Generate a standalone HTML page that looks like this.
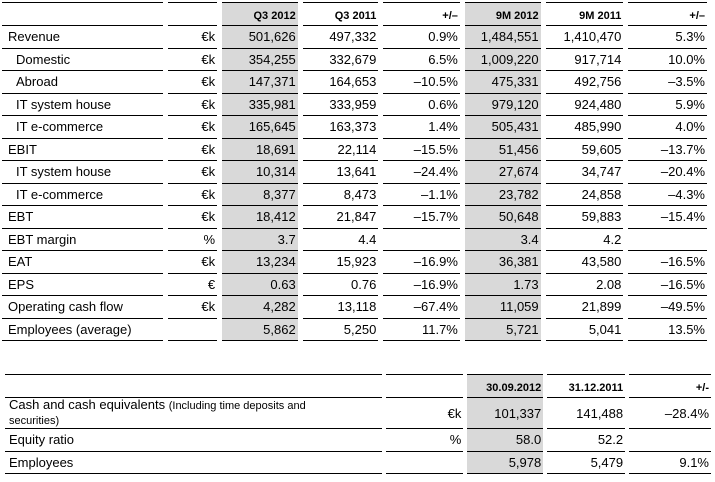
<!DOCTYPE html>
<html><head><meta charset="utf-8"><style>
html,body{margin:0;padding:0;background:#fff;width:715px;height:482px;overflow:hidden;position:relative;font-family:"Liberation Sans",Arial,sans-serif;color:#000}
table{position:absolute;border-collapse:separate;table-layout:fixed}
td{border-bottom:1.5px solid #000;padding:0 2px 0 0;text-align:right;font-size:13px;white-space:nowrap;overflow:hidden;box-sizing:border-box;vertical-align:middle}
td.l{text-align:left;padding-left:6px}
td.i{text-align:left;padding-left:14px}
td.g{background:#d9d9d9}
tr.h td{border-top:1.5px solid #000;font-size:11px;font-weight:bold;vertical-align:bottom;padding-bottom:3px}
#t1{left:-3px;top:2px;border-spacing:5px 0}
#t1 tr{height:22.5px}
#t1 tr.h{height:24px}
#t2{left:1px;top:374px;border-spacing:4px 0}
#t2 tr{height:22.5px}
#t2 tr.h{height:24px}
small{font-size:11px}
</style></head><body>
<table id="t1">
<colgroup><col style="width:161px"><col style="width:50px"><col style="width:76px"><col style="width:76px"><col style="width:77px"><col style="width:76px"><col style="width:78px"><col style="width:79px"></colgroup>
<tr class="h"><td class="l"></td><td></td><td class="g">Q3 2012</td><td>Q3 2011</td><td>+/–</td><td class="g">9M 2012</td><td>9M 2011</td><td>+/–</td></tr>
<tr><td class="l">Revenue</td><td>€k</td><td class="g">501,626</td><td>497,332</td><td>0.9%</td><td class="g">1,484,551</td><td>1,410,470</td><td>5.3%</td></tr>
<tr><td class="i">Domestic</td><td>€k</td><td class="g">354,255</td><td>332,679</td><td>6.5%</td><td class="g">1,009,220</td><td>917,714</td><td>10.0%</td></tr>
<tr><td class="i">Abroad</td><td>€k</td><td class="g">147,371</td><td>164,653</td><td>–10.5%</td><td class="g">475,331</td><td>492,756</td><td>–3.5%</td></tr>
<tr><td class="i">IT system house</td><td>€k</td><td class="g">335,981</td><td>333,959</td><td>0.6%</td><td class="g">979,120</td><td>924,480</td><td>5.9%</td></tr>
<tr><td class="i">IT e-commerce</td><td>€k</td><td class="g">165,645</td><td>163,373</td><td>1.4%</td><td class="g">505,431</td><td>485,990</td><td>4.0%</td></tr>
<tr><td class="l">EBIT</td><td>€k</td><td class="g">18,691</td><td>22,114</td><td>–15.5%</td><td class="g">51,456</td><td>59,605</td><td>–13.7%</td></tr>
<tr><td class="i">IT system house</td><td>€k</td><td class="g">10,314</td><td>13,641</td><td>–24.4%</td><td class="g">27,674</td><td>34,747</td><td>–20.4%</td></tr>
<tr><td class="i">IT e-commerce</td><td>€k</td><td class="g">8,377</td><td>8,473</td><td>–1.1%</td><td class="g">23,782</td><td>24,858</td><td>–4.3%</td></tr>
<tr><td class="l">EBT</td><td>€k</td><td class="g">18,412</td><td>21,847</td><td>–15.7%</td><td class="g">50,648</td><td>59,883</td><td>–15.4%</td></tr>
<tr><td class="l">EBT margin</td><td>%</td><td class="g">3.7</td><td>4.4</td><td></td><td class="g">3.4</td><td>4.2</td><td></td></tr>
<tr><td class="l">EAT</td><td>€k</td><td class="g">13,234</td><td>15,923</td><td>–16.9%</td><td class="g">36,381</td><td>43,580</td><td>–16.5%</td></tr>
<tr><td class="l">EPS</td><td>€</td><td class="g">0.63</td><td>0.76</td><td>–16.9%</td><td class="g">1.73</td><td>2.08</td><td>–16.5%</td></tr>
<tr><td class="l">Operating cash flow</td><td>€k</td><td class="g">4,282</td><td>13,118</td><td>–67.4%</td><td class="g">11,059</td><td>21,899</td><td>–49.5%</td></tr>
<tr><td class="l">Employees (average)</td><td></td><td class="g">5,862</td><td>5,250</td><td>11.7%</td><td class="g">5,721</td><td>5,041</td><td>13.5%</td></tr>
</table>
<table id="t2">
<colgroup><col style="width:378px"><col style="width:78px"><col style="width:76px"><col style="width:78px"><col style="width:82px"></colgroup>
<tr class="h"><td class="l"></td><td></td><td class="g">30.09.2012</td><td>31.12.2011</td><td>+/-</td></tr>
<tr style="height:31px"><td class="l" style="padding-left:4px;line-height:13px;white-space:normal">Cash and cash equivalents <small>(Including time deposits and<br>securities)</small></td><td>€k</td><td class="g">101,337</td><td>141,488</td><td>–28.4%</td></tr>
<tr><td class="l" style="padding-left:4px">Equity ratio</td><td>%</td><td class="g">58.0</td><td>52.2</td><td></td></tr>
<tr><td class="l" style="padding-left:4px">Employees</td><td></td><td class="g">5,978</td><td>5,479</td><td>9.1%</td></tr>
</table>
</body></html>
